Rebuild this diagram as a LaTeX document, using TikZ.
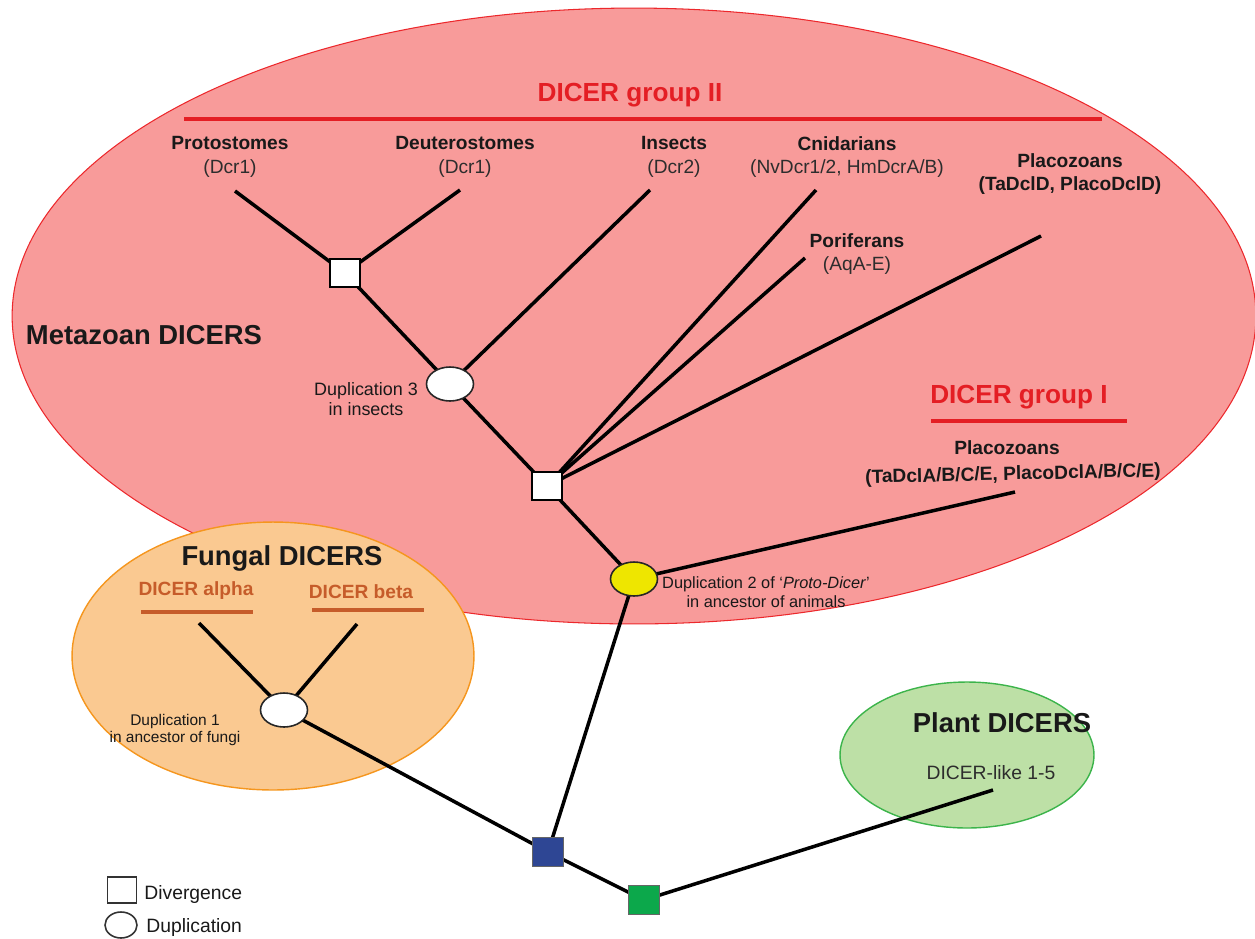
\documentclass[tikz,border=0pt]{standalone}
\usepackage{fontspec}
\setmainfont{Liberation Sans}
\usetikzlibrary{shapes.geometric}
\definecolor{metafill}{RGB}{248,155,154}
\definecolor{metaline}{RGB}{236,40,44}
\definecolor{fungfill}{RGB}{250,201,145}
\definecolor{fungline}{RGB}{245,150,30}
\definecolor{plantfill}{RGB}{189,224,166}
\definecolor{plantline}{RGB}{60,180,75}
\definecolor{grpred}{RGB}{228,30,36}
\definecolor{fungtxt}{RGB}{198,92,42}
\definecolor{dupyellow}{RGB}{238,230,0}
\definecolor{divblue}{RGB}{46,70,148}
\definecolor{divgreen}{RGB}{12,168,75}
\definecolor{txt}{RGB}{25,25,25}
\definecolor{subtxt}{RGB}{45,45,45}
\pgfdeclarelayer{regions}
\pgfdeclarelayer{branches}
\pgfsetlayers{regions,branches,main}
\begin{document}
\begin{tikzpicture}[x=0.02cm,y=-0.02cm,
  divsq/.style={draw=black, line width=0.9pt, fill=white, rectangle, minimum width=0.6cm, minimum height=0.57cm, inner sep=0pt},
  colsq/.style={draw=black!60, line width=1.1pt, rectangle, minimum width=0.62cm, minimum height=0.58cm, inner sep=0pt},
  dupel/.style={draw=black!85, line width=0.9pt, fill=white, ellipse, minimum width=0.94cm, minimum height=0.68cm, inner sep=0pt},
  branch/.style={line width=2pt, black},
  taxon/.style={align=center, text=txt, font=\fontsize{10.9}{13.4}\selectfont\bfseries, inner sep=0pt},
  grouphead/.style={text=grpred, font=\fontsize{14.9}{18}\selectfont\bfseries, inner sep=0pt},
  grouprule/.style={draw=grpred, line width=2.5pt},
  bighead/.style={text=txt, font=\fontsize{15.6}{19}\selectfont\bfseries, inner sep=0pt},
  funghead/.style={text=fungtxt, font=\fontsize{10.9}{13}\selectfont\bfseries, inner sep=0pt},
  fungrule/.style={draw=fungtxt, line width=1.8pt},
  note/.style={align=center, text=txt, inner sep=0pt},
  legtext/.style={anchor=west, text=txt, font=\fontsize{11}{13}\selectfont, inner sep=0pt}
]
\useasboundingbox (0,0) rectangle (1255,938);

% regions
\begin{pgfonlayer}{regions}
\draw[metaline, fill=metafill, line width=0.6pt] (634,316) ellipse [x radius=12.44cm, y radius=6.16cm];
\draw[fungline, fill=fungfill, line width=0.8pt] (273,656) ellipse [x radius=4.02cm, y radius=2.68cm];
\draw[plantline, fill=plantfill, line width=0.8pt] (967,755) ellipse [x radius=2.54cm, y radius=1.46cm];
\end{pgfonlayer}

% headings
\node[grouphead] (g2) at (630,95) {DICER group II};
\draw[grouprule] (184,119) -- (1102,119);
\node[grouphead] (g1) at (1019,397) {DICER group I};
\draw[grouprule] (931,421) -- (1127,421);
\node[bighead] (meta) at (144,335) {Metazoan DICERS};
\node[bighead] (fung) at (282,558) {Fungal DICERS};
\node[bighead] (plant) at (1002,723) {Plant DICERS};
\node[funghead] (alpha) at (196,591) {DICER alpha};
\draw[fungrule] (141,612) -- (253,612);
\node[funghead] (beta) at (361,592) {DICER beta};
\draw[fungrule] (312,610) -- (424,610);

% taxon labels
\node[taxon] (pro) at (230,157) {Protostomes\\{\mdseries\color{subtxt}(Dcr1)}};
\node[taxon] (deu) at (465,157) {Deuterostomes\\{\mdseries\color{subtxt}(Dcr1)}};
\node[taxon] (ins) at (674,157) {Insects\\{\mdseries\color{subtxt}(Dcr2)}};
\node[taxon] (cni) at (847,157) {Cnidarians\\{\mdseries\color{subtxt}(NvDcr1/2, HmDcrA/B)}};
\node[taxon] (por) at (857,254) {Poriferans\\{\mdseries\color{subtxt}(AqA-E)}};
\node[taxon] (plD) at (1070,174) {Placozoans\\(TaDclD, PlacoDclD)};
\node[taxon] (plA) at (1007,448) {Placozoans};
\node[taxon, rotate=1.3] (plAsub) at (1013,475) {(TaDclA/B/C/E, PlacoDclA/B/C/E)};
\node[note, text=subtxt, font=\fontsize{11}{13}\selectfont] (dcl) at (991,773) {DICER-like 1-5};

% duplication notes
\node[note, font=\fontsize{10.2}{11.4}\selectfont] (n3) at (366,399) {Duplication 3\\in insects};
\node[note, font=\fontsize{9.3}{10.8}\selectfont] (n2) at (766,592) {Duplication 2 of `\textit{Proto-Dicer}'\\in ancestor of animals};
\node[note, font=\fontsize{8.8}{10.2}\selectfont] (n1) at (175,730) {Duplication 1\\in ancestor of fungi};

% tree nodes
\node[divsq] (sqA) at (345,273) {};
\node[dupel] (dup3) at (450,384) {};
\node[divsq] (sqB) at (547,486) {};
\node[dupel, fill=dupyellow] (dup2) at (634,579) {};
\node[dupel] (dup1) at (284,710) {};
\node[colsq, fill=divblue] (sqBlue) at (548,852) {};
\node[colsq, fill=divgreen] (sqGreen) at (644,900) {};

% leaf ends
\coordinate (proE) at (235,191);
\coordinate (deuE) at (460,190);
\coordinate (insE) at (650,190);
\coordinate (cniE) at (816,190);
\coordinate (porE) at (805,258);
\coordinate (plDE) at (1041,236);
\coordinate (plAE) at (1015,492);
\coordinate (alphaE) at (199,623);
\coordinate (betaE) at (357,624);
\coordinate (plantE) at (993,790);

\begin{pgfonlayer}{branches}
\draw[branch] (sqA.center) -- (proE);
\draw[branch] (sqA.center) -- (deuE);
\draw[branch] (sqA.center) -- (dup3.center);
\draw[branch] (dup3.center) -- (insE);
\draw[branch] (dup3.center) -- (sqB.center);
\draw[branch] (sqB.center) -- (cniE);
\draw[branch] (sqB.center) -- (porE);
\draw[branch] (sqB.center) -- (plDE);
\draw[branch] (sqB.center) -- (dup2.center);
\draw[branch] (dup2.center) -- (plAE);
\draw[branch] (dup2.center) -- (sqBlue.center);
\draw[branch] (dup1.center) -- (alphaE);
\draw[branch] (dup1.center) -- (betaE);
\draw[branch] (dup1.center) -- (sqBlue.center);
\draw[branch] (sqBlue.center) -- (sqGreen.center);
\draw[branch] (sqGreen.center) -- (plantE);
\end{pgfonlayer}

% legend
\node[draw=black!80, line width=0.9pt, rectangle, minimum width=0.58cm, minimum height=0.52cm, inner sep=0pt] (legSq) at (122,890) {};
\node[legtext] (legDiv) at (144,894) {Divergence};
\node[draw=black!80, line width=0.9pt, ellipse, minimum width=0.64cm, minimum height=0.52cm, inner sep=0pt] (legEl) at (121,925) {};
\node[legtext] (legDup) at (146,927) {Duplication};
\end{tikzpicture}
\end{document}
